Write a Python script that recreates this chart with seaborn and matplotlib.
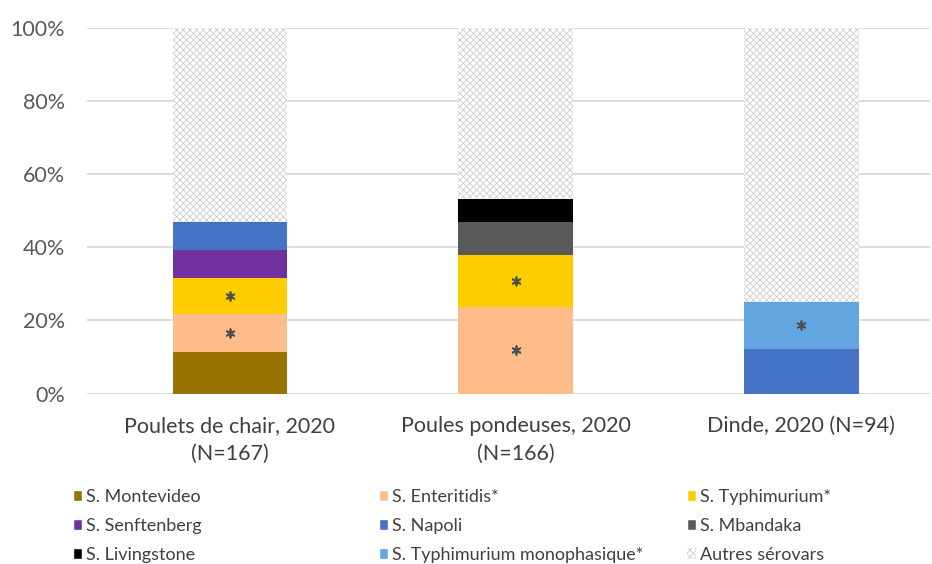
import pandas as pd
import matplotlib
matplotlib.use("Agg")
import matplotlib.pyplot as plt
import matplotlib.patches as mpatches
import seaborn as sns

# data (percent of isolates per production type)
categories = ['Poulets de chair, 2020\n(N=167)',
              'Poules pondeuses, 2020\n(N=166)',
              'Dinde, 2020 (N=94)']
serovars = ['S. Montevideo', 'S. Enteritidis*', 'S. Typhimurium*',
            'S. Senftenberg', 'S. Napoli', 'S. Mbandaka',
            'S. Livingstone', 'S. Typhimurium monophasique*', 'Autres sérovars']
montevideo = [11.3, 0.0, 0.0]
enteritidis = [10.5, 23.8, 0.0]
typhimurium = [9.7, 14.0, 0.0]
senftenberg = [7.8, 0.0, 0.0]
napoli = [7.7, 0.0, 12.2]
mbandaka = [0.0, 9.2, 0.0]
livingstone = [0.0, 6.3, 0.0]
typhi_mono = [0.0, 0.0, 12.9]
autres = [53.0, 46.7, 74.9]
colors = ['#997300', '#FFBC8B', '#FFCC00', '#7030A0', '#4472C4',
          '#595959', '#000000', '#62A5E0', 'white']

values = [montevideo, enteritidis, typhimurium, senftenberg, napoli,
          mbandaka, livingstone, typhi_mono, autres]

rows = []
for s, vals in zip(serovars, values):
    for c, v in zip(categories, vals):
        rows.append({'Categorie': c, 'Serovar': s, 'Pct': v})
df = pd.DataFrame(rows)
df['Serovar'] = pd.Categorical(df['Serovar'], serovars, ordered=True)
df['Categorie'] = pd.Categorical(df['Categorie'], categories, ordered=True)
df = df.sort_values(['Categorie', 'Serovar'])
df['Cum'] = df.groupby('Categorie', observed=True)['Pct'].cumsum()
df['Bottom'] = df['Cum'] - df['Pct']

sns.set_style('white')
plt.rcParams['font.family'] = ['Lato', 'DejaVu Sans']
plt.rcParams['hatch.linewidth'] = 0.6

fig = plt.figure(figsize=(9.32, 5.64), dpi=100)
ax = fig.add_axes([87 / 932, 1 - 393.5 / 564, 843 / 932, 365.2 / 564])

hatch_col = '#CDCDCD'
# stacked bars: draw cumulative heights from the top layer down
for s, col in reversed(list(zip(serovars, colors))):
    sub = df[df['Serovar'] == s]
    kw = dict(hatch='xxxxx', edgecolor=hatch_col) if s == 'Autres sérovars' else dict(edgecolor=col)
    sns.barplot(data=sub, x='Categorie', y='Cum', order=categories, color=col,
                saturation=1, width=0.4, errorbar=None, linewidth=0, ax=ax, **kw)

# asterisks on the starred serovars
star = df[df['Serovar'].astype(str).str.endswith('*') & (df['Pct'] > 0)]
ax.scatter([categories.index(c) for c in star['Categorie']],
           star['Bottom'] + star['Pct'] / 2,
           marker=(6, 2, 0), s=38, color='#505050', linewidths=1.3, zorder=5)

ax.set_xlim(-0.5, 2.45)
ax.set_ylim(0, 100)
ax.set_yticks(range(0, 101, 20))
ax.set_yticklabels([f'{t}%' for t in range(0, 101, 20)])
ax.set_xlabel('')
ax.set_ylabel('')
ax.yaxis.grid(True, color='#D9D9D9', linewidth=1.3)
ax.set_axisbelow(True)
for sp in ax.spines.values():
    sp.set_visible(False)
ax.tick_params(axis='y', length=0, labelsize=15.5, labelcolor='#595959', pad=16)
ax.tick_params(axis='x', length=0, labelsize=15.5, labelcolor='#404040', pad=16)
for t in ax.get_xticklabels():
    t.set_linespacing(1.5)

# legend: three columns, rows read left to right
handles = []
for s, col in zip(serovars, colors):
    if s == 'Autres sérovars':
        handles.append(mpatches.Patch(facecolor='white', edgecolor=hatch_col,
                                      hatch='xxxxx', linewidth=0, label=s))
    else:
        handles.append(mpatches.Patch(facecolor=col, label=s))
xs = [64 / 932, 370 / 932, 678 / 932]
for i, x in enumerate(xs):
    leg = fig.legend(handles=handles[i::3], loc='upper left',
                     bbox_to_anchor=(x, 1 - 480 / 564), frameon=False,
                     fontsize=13, handlelength=0.5, handleheight=0.6,
                     handletextpad=0.2, labelspacing=0.72, borderpad=0)
    for t in leg.get_texts():
        t.set_color('#404040')

fig.savefig('out.png', dpi=100)
